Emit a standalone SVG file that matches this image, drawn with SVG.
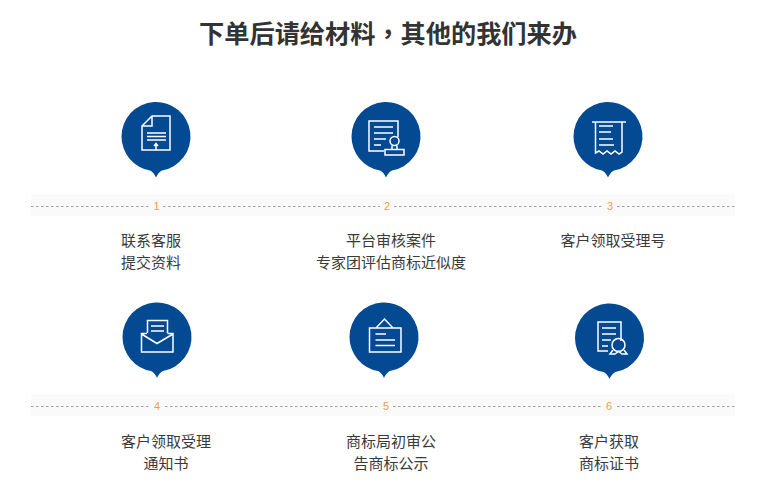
<svg xmlns="http://www.w3.org/2000/svg" width="776" height="500" viewBox="0 0 776 500">
<style>
text{font-family:"Liberation Sans","Noto Sans CJK SC",sans-serif}
.t{font-size:25.200px;font-weight:700;fill:#333;font-family:"Noto Sans CJK SC",sans-serif}
.l{font-size:15px;fill:#3a3a3a;text-anchor:middle;font-family:"Noto Sans CJK SC",sans-serif}
.n{font-size:11px;fill:#f0a040;text-anchor:middle}
.b{fill:#fafafa}
.d{stroke:#a0a0a0;stroke-width:1;stroke-dasharray:2.500 2.500;fill:none}
.c{fill:#034a92}
.i{fill:none;stroke:#fff;stroke-width:1.500}
</style>
<defs>
<path id="pin" class="c" d="M-34.500 0A34.500 34.500 0 1 1 6 34Q2.500 35.500 0 41Q-2.500 35.500 -6 34A34.500 34.500 0 0 1 -34.500 0Z"/>
</defs>
<rect width="776" height="500" fill="#fff"/>
<text class="t" x="388" y="43" text-anchor="middle">下单后请给材料<tspan font-family="Noto Sans CJK TC">，</tspan>其他的我们来办</text>
<g id="connectors">
<rect class="b" x="31" y="194" width="704" height="22"/>
<rect class="b" x="31" y="394" width="704" height="22"/>
<path class="d" d="M31 206.500H150M163 206.500H380M394 206.500H603M617 206.500H735"/>
<path class="d" d="M31 406.500H151M165 406.500H379M393 406.500H603M617 406.500H735"/>
</g>
<g id="node1">
<use href="#pin" x="156" y="136.500"/>
<path class="i" d="M152 116H170V150H142V126ZM152 116V126H142"/>
<path class="i" d="M147 133H166M147 136.500H166M147 140H166M156 150V144M154 146L156 143.500L158 146"/>
<text class="n" x="156.500" y="210">1</text>
<text class="l" x="151" y="246">联系客服</text>
<text class="l" x="151" y="268">提交资料</text>
</g>
<g id="node2">
<use href="#pin" x="386" y="136.500"/>
<path class="i" d="M398 137V121H369V151H384M374 127H393M374 133H393M374 139H386M374 145H381"/>
<circle class="i" cx="394.500" cy="141" r="4.500"/>
<path class="i" d="M392 145.500V149M397 145.500V149M385 149.500H404V155H385Z"/>
<text class="n" x="387" y="210">2</text>
<text class="l" x="391" y="246">平台审核案件</text>
<text class="l" x="391" y="268">专家团评估商标近似度</text>
</g>
<g id="node3">
<use href="#pin" x="608" y="136.500"/>
<path class="i" d="M592 122H626"/>
<path class="i" d="M595.500 122V153L599 151L603 154L607 151L611 154L615 151L619 154L622 152V122"/>
<path class="i" d="M599 126H613M599 132H611M599 139H613M599 145H614"/>
<text class="n" x="610" y="210">3</text>
<text class="l" x="613" y="246">客户领取受理号</text>
</g>
<g id="node4">
<use href="#pin" x="157" y="337"/>
<path class="i" d="M147.500 333V320.500H167.500V333M151 326H164M151 331H164"/>
<path class="i" d="M147 333.500H141.500V352H173V333.500H167.500M141.500 334L157 343.500L173 334"/>
<text class="n" x="157" y="410">4</text>
<text class="l" x="166" y="447">客户领取受理</text>
<text class="l" x="166" y="469">通知书</text>
</g>
<g id="node5">
<use href="#pin" x="384" y="337"/>
<path class="i" d="M369.500 328H401V352H369.500ZM376 328L384.500 319L393 328"/>
<path class="i" d="M375.500 334H386M375.500 340H395M375.500 345.500H395"/>
<text class="n" x="386" y="410">5</text>
<text class="l" x="391" y="447">商标局初审公</text>
<text class="l" x="391" y="469">告商标公示</text>
</g>
<g id="node6">
<use href="#pin" x="609.500" y="338"/>
<path class="i" d="M614 322H621V341M614 322H598V351H608M602 328H616M602 334H616M602 340H611M602 346H608"/>
<circle class="i" cx="618.500" cy="345" r="6.500"/>
<path class="i" d="M613 350L610 354H615L618.500 351.500L622 354H627L624 350"/>
<text class="n" x="609" y="410">6</text>
<text class="l" x="609" y="447">客户获取</text>
<text class="l" x="609" y="469">商标证书</text>
</g>
</svg>
